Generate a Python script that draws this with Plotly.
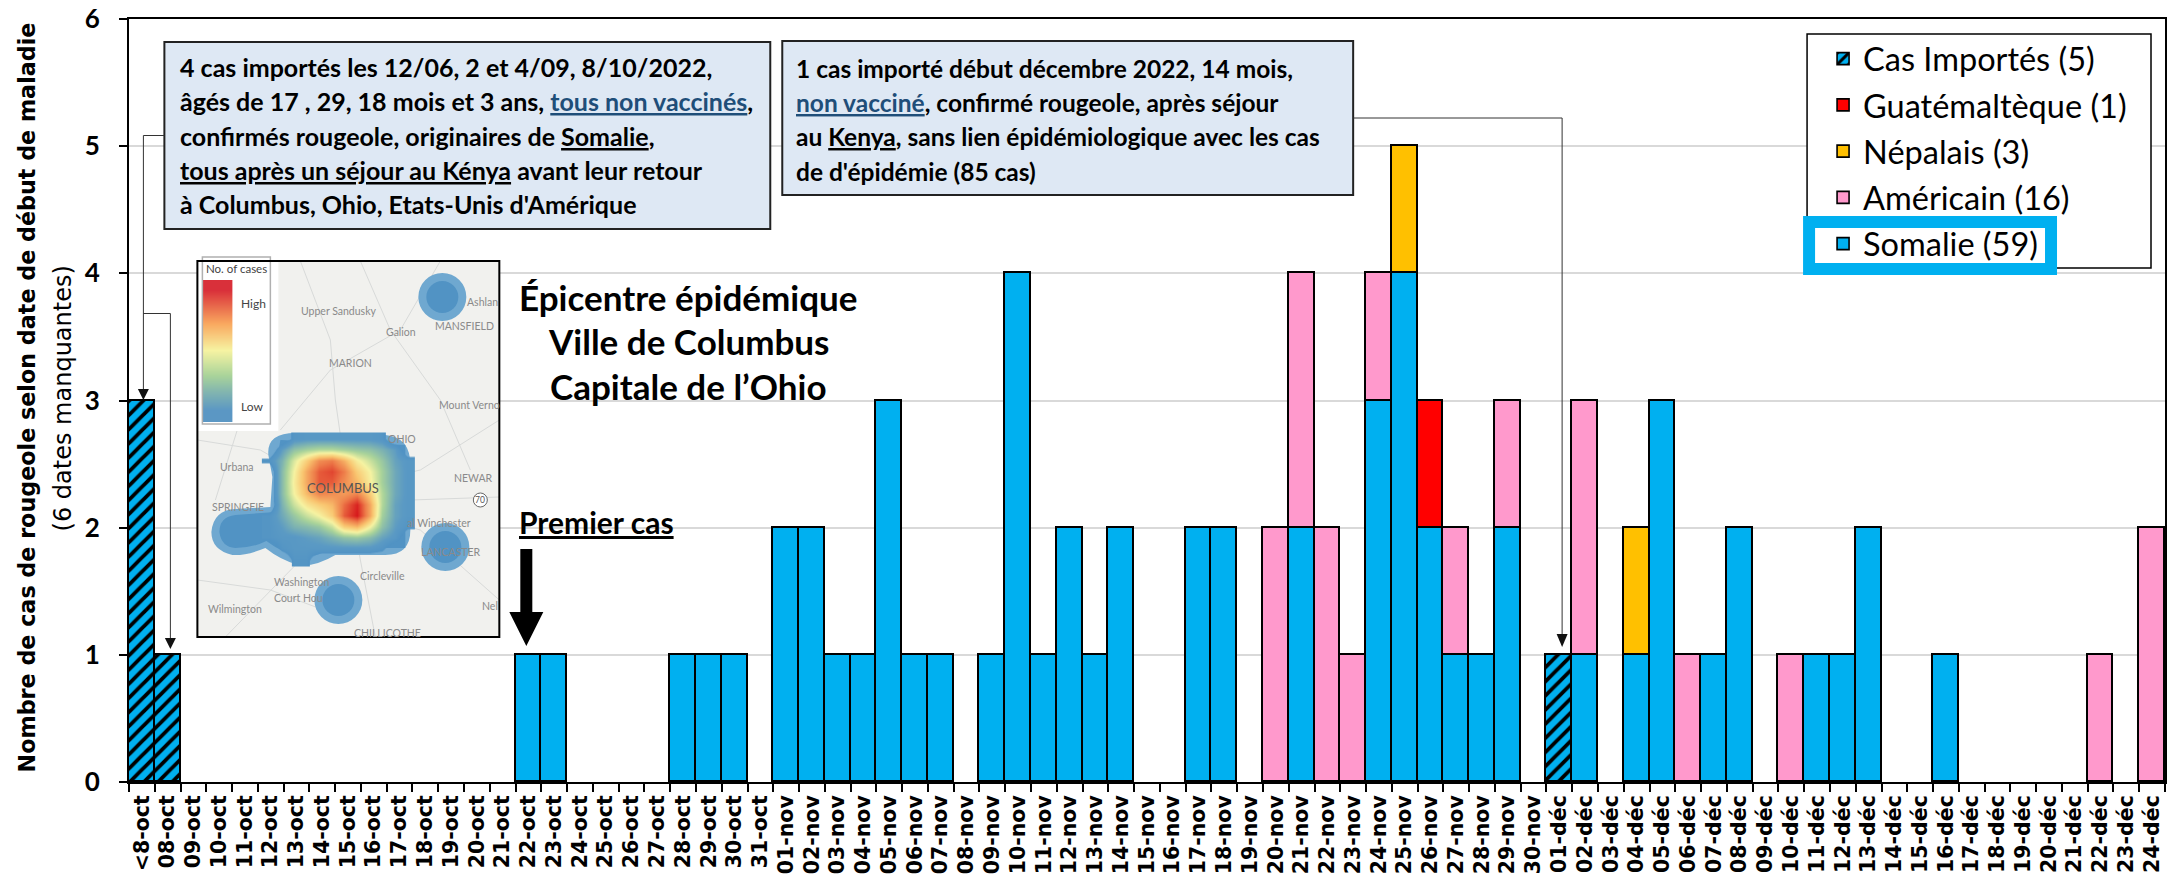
import plotly.graph_objects as go

categories = (["<8-oct"] + [f"{d:02d}-oct" for d in range(8, 32)]
              + [f"{d:02d}-nov" for d in range(1, 31)]
              + [f"{d:02d}-déc" for d in range(1, 25)])

somalie = ([0]*15 + [1, 1, 0, 0, 0, 0, 1, 1, 1, 0]
           + [2, 2, 1, 1, 3, 1, 1, 0, 1, 4, 1, 2, 1, 2, 0, 0, 2, 2, 0, 0, 2, 0, 0, 3, 4, 2, 1, 1, 2, 0]
           + [0, 1, 0, 1, 3, 0, 1, 2, 0, 0, 1, 1, 2, 0, 0, 1, 0, 0, 0, 0, 0, 0, 0, 0])
americain = ([0]*25 + [0]*19 + [2, 2, 2, 1, 1, 0, 0, 1, 0, 1, 0]
             + [0, 2, 0, 0, 0, 1, 0, 0, 0, 1] + [0]*11 + [1, 0, 2])
nepalais = [0]*25 + [0]*24 + [1] + [0]*5 + [0, 0, 0, 1] + [0]*20
guatemalteque = [0]*25 + [0]*25 + [1] + [0]*4 + [0]*24
importes = [3, 1] + [0]*23 + [0]*30 + [1] + [0]*23

series_names = ["Somalie (59)", "Américain (16)", "Népalais (3)", "Guatémaltèque (1)", "Cas Importés (5)"]
series_colors = ["#00B0F0", "#FF99CC", "#FFC000", "#FF0000", "#00B0F0"]
series_values = [somalie, americain, nepalais, guatemalteque, importes]
y_ticks = [0, 1, 2, 3, 4, 5, 6]

heat_x = [268, 281, 293, 306, 319, 332, 344, 357, 370, 382, 395, 408]
heat_y = [438, 449, 460, 471, 482, 493, 504, 515, 526, 537, 548, 560]
heat_z = [
    [0, 0, .13, .15, .15, .15, .15, .15, .15, .13, 0, 0],
    [0, .18, .30, .35, .38, .38, .35, .32, .30, .25, .18, 0],
    [.12, .25, .45, .62, .78, .82, .70, .52, .42, .32, .20, .15],
    [0, .28, .50, .72, .88, .92, .82, .62, .50, .35, .22, .15],
    [0, .28, .52, .72, .88, .88, .78, .68, .52, .35, .22, .15],
    [0, .28, .50, .68, .80, .78, .75, .80, .62, .38, .22, .15],
    [0, .25, .42, .55, .62, .68, .85, .98, .72, .38, .20, .15],
    [.12, .22, .32, .42, .50, .62, .88, 1.0, .72, .35, .20, .15],
    [.12, .18, .25, .28, .32, .42, .62, .68, .50, .30, .18, .12],
    [.12, .15, .15, .18, .20, .25, .30, .32, .28, .20, .15, 0],
    [0, .12, .15, .15, .15, .15, .15, .15, .15, .12, 0, 0],
    [0, 0, .12, .12, 0, 0, 0, 0, 0, 0, 0, 0],
]
scale_z = [[1, 1], [.85, .85], [.7, .7], [.55, .55], [.4, .4], [.25, .25], [.12, .12], [.12, .12]]
scale_y = [290, 310, 330, 350, 370, 390, 410, 418]

RING = "#6FA8D0"
CORE = "#5193C4"
heat_colors = [[0, "rgba(81,147,196,0)"], [.09, "rgba(81,147,196,0)"], [.1, CORE], [.17, "#5B9AC4"],
               [.36, "#A9D39A"], [.5, "#F6F3A2"], [.65, "#F9C46F"], [.82, "#EE7D4A"], [1, "#D7191C"]]
scale_colors = [[0, "#4A90C0"], [.12, "#5B97C4"], [.36, "#A9D39A"], [.55, "#F6F3A2"], [.75, "#F9A85F"], [1, "#D9303A"]]

L, R, T, B = 128.6, 2165, 19, 782
BLUE = "#00B0F0"
SANS = "Lato"
fig = go.Figure()

for i, (name, col, vals) in enumerate(zip(series_names, series_colors, series_values)):
    marker = dict(color=col, line=dict(color="black", width=1.6))
    if i == 4:
        marker["pattern"] = dict(shape="/", fgcolor="black", bgcolor=BLUE, size=10, solidity=0.38, fillmode="replace")
    fig.add_trace(go.Bar(x=categories, y=[v if v else None for v in vals], name=name, marker=marker,
                         legendgroup=name, legendrank=5-i, hoverinfo="x+y+name"))

fig.add_trace(go.Heatmap(x=heat_x, y=heat_y, z=heat_z, xaxis="x2", yaxis="y2", zsmooth="best",
                         zmin=0, zmax=1, showscale=False, colorscale=heat_colors, hoverinfo="skip"))
fig.add_trace(go.Heatmap(x=[209.5, 224.5], y=scale_y, z=scale_z, xaxis="x2", yaxis="y2", zsmooth="best",
                         zmin=0, zmax=1, showscale=False, colorscale=scale_colors, hoverinfo="skip"))

shapes, annos = [], []


def rect(x0, y0, x1, y1, fill=None, line="black", width=1.5, layer="below"):
    shapes.append(dict(type="rect", xref="x2", yref="y2", x0=x0, y0=y0, x1=x1, y1=y1, layer=layer,
                       fillcolor=fill or "rgba(0,0,0,0)", line=dict(color=line, width=width)))


def path(d, fill=None, line=None, width=1, layer="above"):
    shapes.append(dict(type="path", xref="x2", yref="y2", path=d, layer=layer,
                       fillcolor=fill or "rgba(0,0,0,0)",
                       line=dict(color=line or "rgba(0,0,0,0)", width=width)))


def circle(cx, cy, r, fill, line=None):
    shapes.append(dict(type="circle", xref="x2", yref="y2", x0=cx-r, x1=cx+r, y0=cy-r, y1=cy+r, layer="below",
                       fillcolor=fill, line=dict(width=1 if line else 0, color=line or fill)))


def text(x, y, s, size, color="black", anchor="left", family=SANS, angle=0):
    annos.append(dict(xref="paper", yref="y2", x=(x-L)/(R-L), y=y, text=s, showarrow=False, xanchor=anchor,
                      yanchor="middle", font=dict(family=family, size=size, color=color), textangle=angle,
                      borderpad=0, borderwidth=0))


# legend backing
rect(1807, 34, 2151, 268, fill="white", line="black", width=1.5)

# map inset
rect(197, 261, 499, 637, fill="#F1F1EE", line="#F1F1EE", width=0)
for d in ["M 300 261 L 330 340 L 335 400 L 345 470 L 360 560 L 375 637",
          "M 197 440 L 260 450 L 330 490 L 420 470 L 499 420",
          "M 225 637 L 300 560 L 345 510 L 420 530 L 499 600",
          "M 360 261 L 390 330 L 440 400 L 470 470",
          "M 250 261 L 265 340 L 240 420 L 215 500",
          "M 440 261 L 400 330 L 330 370 L 280 430",
          "M 197 580 L 270 590 L 350 620",
          "M 411 500 L 499 497"]:
    path(d, line="#D8DAD9", width=1, layer="below")
for cx, cy in [(442, 297), (445, 547), (338, 600)]:
    circle(cx, cy, 24, RING)
    circle(cx, cy, 16, CORE)
path("M 268 455 Q 266 433 295 433 L 385 435 Q 410 437 410 465 L 410 530 Q 410 555 385 555 L 335 555 "
     "Q 315 567 298 565 Q 280 560 265 548 Q 245 556 232 555 Q 211 550 211 532 Q 213 510 235 509 "
     "L 270 507 L 272 477 Z", fill=RING, layer="below")
path("M 275 470 L 275 512 L 235 515 Q 219 517 219 532 Q 221 547 235 548 Q 252 548 266 541 Q 282 553 300 557 "
     "Q 318 557 332 548 L 405 548 L 405 445 L 280 440 Z", fill=CORE, layer="below")
rect(197, 255, 278, 431, fill="white", line="white", width=0)
rect(202, 257, 270, 424, fill=None, line="#B0B0B0", width=1.5, layer="above")
rect(197, 261, 499, 637, fill=None, line="black", width=2, layer="above")
text(236, 268, "No. of cases", 11.5, "#444", "center")
text(241, 303, "High", 12, "#444")
text(241, 406, "Low", 12, "#444")
map_labels = [("Upper Sandusky", 301, 311), ("Galion", 386, 332), ("MARION", 329, 363), ("MANSFIELD", 435, 326),
              ("Ashlan", 467, 302), ("Mount Verno", 439, 405), ("Urbana", 220, 467), ("NEWAR", 454, 478),
              ("SPRINGFIE", 212, 507), ("al Winchester", 407, 523), ("LANCASTER", 421, 552),
              ("Circleville", 360, 576), ("Washington", 274, 582), ("Court Hou", 274, 598),
              ("Wilmington", 208, 609), ("Nel", 482, 606), ("CHILLICOTHE", 354, 633), ("OHIO", 388, 439)]
for s, x, y in map_labels:
    text(x, y, s, 10.5, "#8A8A8A")
text(307, 488, "COLUMBUS", 13, "#555")
circle(480, 500, 7, "white", "#666")
text(480, 500, "70", 8.5, "#555", "center")
path("M 342 503 a 2.2 2.2 0 1 0 4.4 0 a 2.2 2.2 0 1 0 -4.4 0 Z", fill="#444", layer="above")

# text boxes
rect(164, 42, 770, 229, fill="#DEE8F4", line="#222", width=2)
rect(782, 41, 1353, 195, fill="#DEE8F4", line="#222", width=2)
NV = '<span style="color:#1F4E79"><u>%s</u></span>'
left_lines = ["4 cas importés les 12/06, 2 et 4/09, 8/10/2022,",
              "âgés de 17 , 29, 18 mois et 3 ans, " + NV % "tous non vaccinés" + ",",
              "confirmés rougeole, originaires de <u>Somalie</u>,",
              "<u>tous après un séjour au Kénya</u> avant leur retour",
              "à Columbus, Ohio, Etats-Unis d'Amérique"]
for y, s in zip([67, 101, 135.5, 170, 204], left_lines):
    text(180, y, f"<b>{s}</b>", 25)
right_lines = ["1 cas importé début décembre 2022, 14 mois,",
               NV % "non vacciné" + ", confirmé rougeole, après séjour",
               "au <u>Kenya</u>, sans lien épidémiologique avec les cas",
               "de d'épidémie (85 cas)"]
for y, s in zip([68, 102, 136, 171], right_lines):
    text(796, y, f"<b>{s}</b>", 24.5)

# connectors
CONN = "#333"
path("M 164 135.5 L 143 135.5 L 143 392", line=CONN, layer="above")
path("M 143 313.5 L 170 313.5 L 170 640", line=CONN, layer="above")
path("M 1353 118 L 1562 118 L 1562 636", line=CONN, layer="above")
path("M 137.5 389 L 148.5 389 L 143 400 Z", fill="#111", layer="above")
path("M 164.5 638 L 175.5 638 L 170 649 Z", fill="#111", layer="above")
path("M 1556.5 634 L 1567.5 634 L 1562 647 Z", fill="#111", layer="above")

# premier cas
path("M 520 549 L 532 549 L 532 612 L 543 612 L 526 646 L 509 612 L 520 612 Z", fill="black", layer="above")
text(519, 522, "<b><u>Premier cas</u></b>", 30)
for y, s in zip([297, 341, 386], ["Épicentre épidémique", "Ville de Columbus", "Capitale de l’Ohio"]):
    text(688, y, f"<b>{s}</b>", 35, anchor="center")

# y title
text(27, 397, "<b>Nombre de cas de rougeole selon date de début de maladie</b>", 22.25, family="DejaVu Sans",
     anchor="center", angle=-90)
text(63, 398, "(6 dates manquantes)", 24, family="DejaVu Sans", anchor="center", angle=-90)

# legend highlight
rect(1809, 222, 2051, 269, fill="white", line=BLUE, width=12)

fig.update_layout(
    width=2183, height=880, margin=dict(l=L, r=2183-R, t=T, b=880-B, autoexpand=False),
    paper_bgcolor="white", plot_bgcolor="rgba(0,0,0,0)", barmode="stack", bargap=0,
    font=dict(family=SANS, color="black"),
    shapes=shapes, annotations=annos,
    xaxis=dict(type="category", categoryorder="array", categoryarray=categories, range=[-0.5, 78.5],
               tickmode="array", tickvals=categories, ticktext=[f"<b>{c}</b>" for c in categories],
               tickson="boundaries", ticks="outside", ticklen=8, tickwidth=1.5, tickcolor="black",
               tickangle=-90, tickfont=dict(family="DejaVu Sans", size=20.5), ticklabelstandoff=3,
               showline=True, linecolor="black", linewidth=2, mirror=True, showgrid=False),
    yaxis=dict(range=[0, 6], tickmode="array", tickvals=y_ticks, ticktext=[f"<b>{v}</b>" for v in y_ticks],
               ticks="outside", ticklen=8, tickwidth=1.5, tickcolor="black", tickfont=dict(family=SANS, size=26),
               ticklabelstandoff=14,
               showline=True, linecolor="black", linewidth=2, mirror=True,
               showgrid=True, gridcolor="#D9D9D9", gridwidth=1.5, zeroline=False),
    xaxis2=dict(domain=[0, 1], range=[L, R], anchor="y2", visible=False, fixedrange=True),
    yaxis2=dict(domain=[0, 1], range=[B, T], anchor="x2", visible=False, fixedrange=True),
    legend=dict(x=(1823-L)/(R-L), y=(B-31)/(B-T), xanchor="left", yanchor="top", bgcolor="rgba(0,0,0,0)",
                borderwidth=0, traceorder="grouped", tracegroupgap=1,
                font=dict(family=SANS, size=32.5), itemclick=False, itemdoubleclick=False),
)

fig.write_html("out.html", config=dict(displayModeBar=False),
               post_script="document.body.style.margin='0';document.body.style.overflow='hidden';"
                           "document.querySelectorAll('path.legendbar').forEach(p=>p.setAttribute('d','M10,10H-10V-10H10Z'));")
